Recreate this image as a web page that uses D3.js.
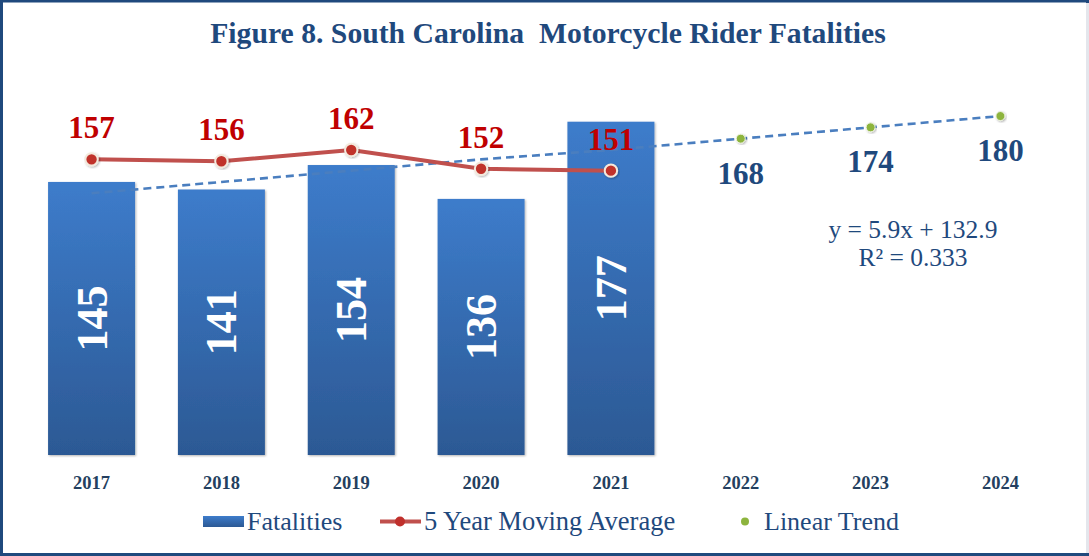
<!DOCTYPE html>
<html><head><meta charset="utf-8">
<script src="https://cdn.jsdelivr.net/npm/d3@7"></script>
<style>body{margin:0;background:#fff}svg{display:block}svg text{font-family:"Liberation Serif",serif}</style>
</head><body>
<svg id="c" width="1089" height="556"></svg>
<script>
const years = ["2017","2018","2019","2020","2021","2022","2023","2024"];
const fatalities = [145, 141, 154, 136, 177];
const movingAvg = [157, 156, 162, 152, 151];
const trendValues = [139, 145, 151, 157, 162, 168, 174, 180];
const trendLabeled = [168, 174, 180];
const trendLabelYears = ["2022","2023","2024"];
const titleText = "Figure 8. South Carolina  Motorcycle Rider Fatalities";
const equationLines = ["y = 5.9x + 132.9", "R\u00B2 = 0.333"];
const legendItems = ["Fatalities", "5 Year Moving Average", "Linear Trend"];

const svg = d3.select("#c");
const W = 1089, H = 556;
const navy = "#1f497d";

const defs = svg.append("defs");
const g1 = defs.append("linearGradient").attr("id","barG").attr("x1",0).attr("y1",0).attr("x2",0).attr("y2",1);
g1.append("stop").attr("offset","0%").attr("stop-color","#3d7ccb");
g1.append("stop").attr("offset","100%").attr("stop-color","#2c5994");
const f = defs.append("filter").attr("id","sh").attr("x","-10%").attr("y","-10%").attr("width","130%").attr("height","130%");
f.append("feDropShadow").attr("dx",1).attr("dy",1).attr("stdDeviation",1.2).attr("flood-color","#000").attr("flood-opacity",0.3);

// frame
svg.append("rect").attr("x",1.5).attr("y",1).attr("width",W-3).attr("height",H-2.5)
  .attr("fill","none").attr("stroke","#1f497d").attr("stroke-width",3);
svg.append("line").attr("x1",W-1.5).attr("x2",W-1.5).attr("y1",3).attr("y2",H-3).attr("stroke","#e4e6ec").attr("stroke-width",3);

const x = d3.scaleBand().domain(years).range([26, 1066]).paddingInner(0.33).paddingOuter(0.17);
const y = d3.scaleLinear().domain([0, 100]).range([455, 455 - 188.3]);
const cx = d => x(d) + x.bandwidth()/2;

// title
svg.append("text").attr("x",548).attr("y",43).attr("text-anchor","middle")
  .style("font-weight","bold").style("font-size","29.7px")
  .attr("fill",navy).attr("xml:space","preserve").text(titleText);

// bars
const barYears = years.slice(0, fatalities.length);
svg.append("g").selectAll("rect").data(fatalities).join("rect")
  .attr("x",(d,i)=>x(barYears[i])).attr("width",x.bandwidth())
  .attr("y",d=>y(d)).attr("height",d=>y(0)-y(d))
  .attr("fill","url(#barG)").attr("filter","url(#sh)");

// bar labels
svg.append("g").selectAll("text").data(fatalities).join("text")
  .attr("transform",(d,i)=>`translate(${cx(barYears[i])+15},${(y(d)+y(0))/2}) rotate(-90)`)
  .attr("text-anchor","middle").style("font-weight","bold")
  .style("font-size","44px").attr("fill","#fff").text(d=>d);

// trend line
svg.append("path").datum(trendValues)
  .attr("d", d3.line().x((d,i)=>cx(years[i])).y(d=>y(d)))
  .attr("fill","none").attr("stroke","#4a7ebf").attr("stroke-width",2.6).attr("stroke-dasharray","8,5");

// trend dots
svg.append("g").selectAll("circle").data(trendLabeled).join("circle")
  .attr("cx",(d,i)=>cx(trendLabelYears[i])).attr("cy",d=>y(d)).attr("r",4.5)
  .attr("fill","#8db43e").attr("stroke","#eef3e2").attr("stroke-width",1).attr("filter","url(#sh)");
svg.append("g").selectAll("text").data(trendLabeled).join("text")
  .attr("x",(d,i)=>cx(trendLabelYears[i])).attr("y",d=>y(d)+45)
  .attr("text-anchor","middle").style("font-weight","bold")
  .style("font-size","31px").attr("fill",navy).text(d=>d);

// moving average
svg.append("path").datum(movingAvg)
  .attr("d", d3.line().x((d,i)=>cx(barYears[i])).y(d=>y(d)))
  .attr("fill","none").attr("stroke","#c0504d").attr("stroke-width",4);
svg.append("g").selectAll("circle").data(movingAvg).join("circle")
  .attr("cx",(d,i)=>cx(barYears[i])).attr("cy",d=>y(d)).attr("r",6.2)
  .attr("fill","#c0302c").attr("stroke","#f3e9dc").attr("stroke-width",2).attr("filter","url(#sh)");
svg.append("g").selectAll("text").data(movingAvg).join("text")
  .attr("x",(d,i)=>cx(barYears[i])).attr("y",d=>y(d)-21)
  .attr("text-anchor","middle").style("font-weight","bold")
  .style("font-size","31px").attr("fill","#c00000").text(d=>d);

// x axis
const ax = svg.append("g").attr("transform","translate(0,455)")
  .call(d3.axisBottom(x).tickSize(0).tickPadding(21));
ax.select(".domain").remove();
ax.selectAll("text").style("font-family",'"Liberation Serif",serif').style("font-weight","bold")
  .style("font-size","18.5px").attr("fill","#243f60");

// equation
svg.append("g").selectAll("text").data(equationLines).join("text")
  .attr("x",913).attr("y",(d,i)=>238+i*28).attr("text-anchor","middle")
  .style("font-size","25.5px").attr("fill",navy).text(d=>d);

// legend
const lg = svg.append("g");
lg.append("rect").attr("x",203).attr("y",516).attr("width",41).attr("height",11).attr("fill","url(#barG)");
lg.append("text").attr("x",247).attr("y",530).style("font-size","26px").attr("fill",navy).text(legendItems[0]);
lg.append("line").attr("x1",380).attr("x2",421).attr("y1",521.5).attr("y2",521.5).attr("stroke","#c0504d").attr("stroke-width",4);
lg.append("circle").attr("cx",400).attr("cy",521.5).attr("r",5).attr("fill","#c0302c");
lg.append("text").attr("x",424).attr("y",530).style("font-size","26.5px").attr("fill",navy).text(legendItems[1]);
lg.append("circle").attr("cx",745).attr("cy",521.5).attr("r",4).attr("fill","#8db43e");
lg.append("text").attr("x",764).attr("y",530).style("font-size","26px").attr("fill",navy).text(legendItems[2]);
</script>
</body></html>
